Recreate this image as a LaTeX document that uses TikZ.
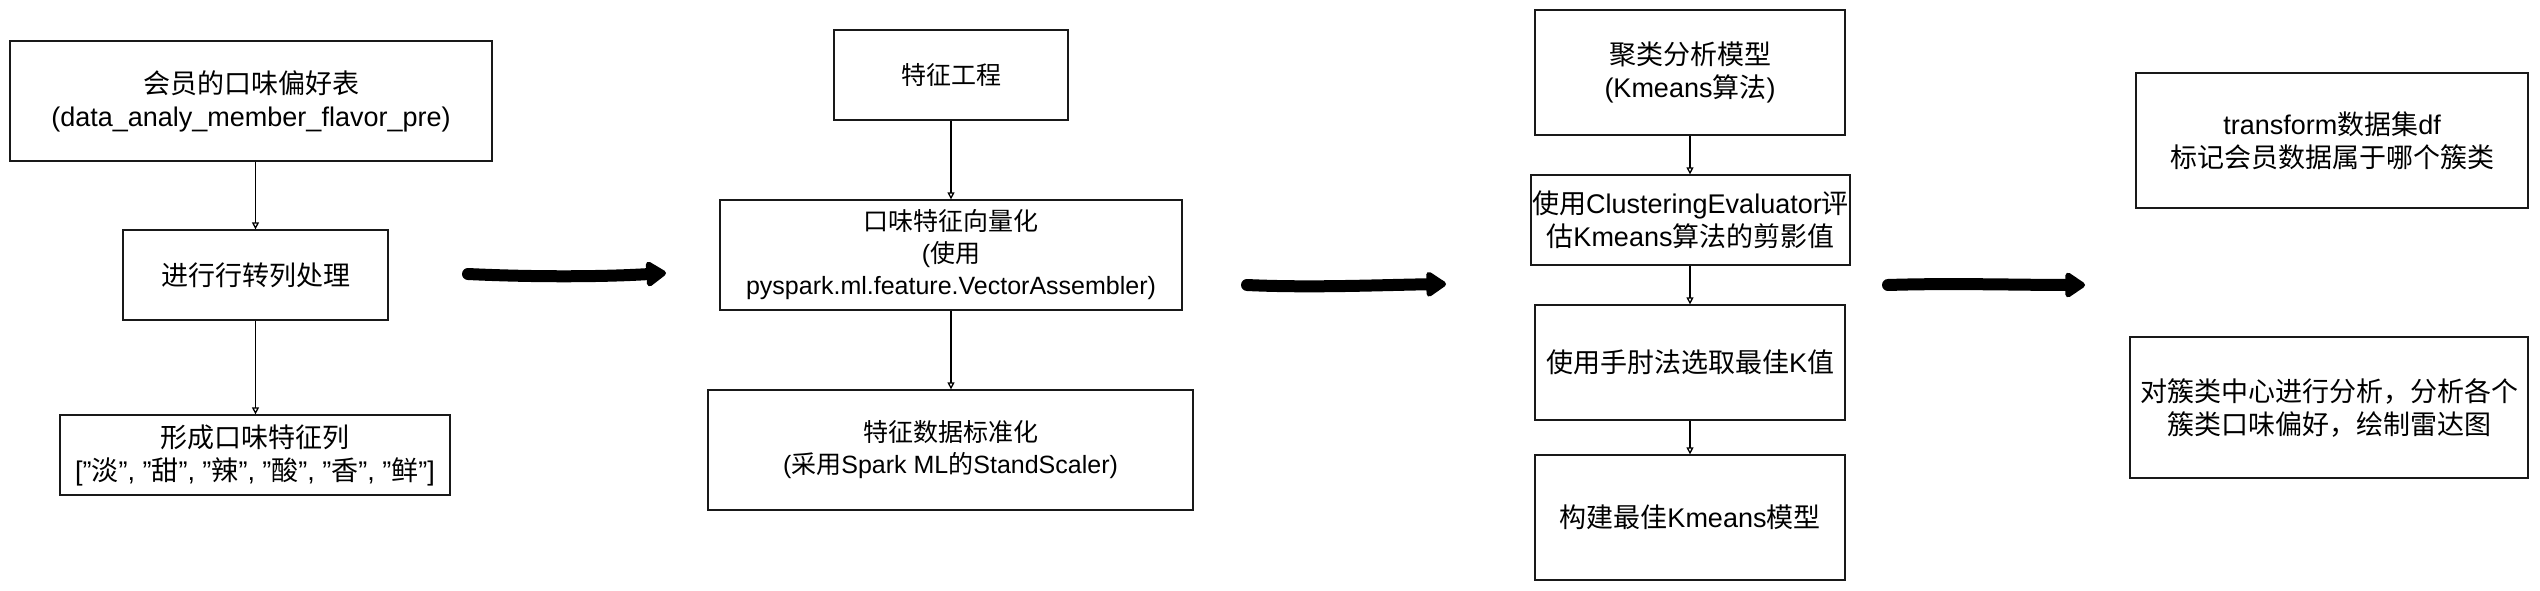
\documentclass[tikz,border=0pt]{standalone}
\usepackage{fontspec}
\setmainfont{Liberation Sans}
\newfontfamily\cjk{Noto Sans CJK SC}
\newcommand\zh[1]{{\cjk #1}}
\usetikzlibrary{arrows.meta}
\tikzset{
  box/.style={draw=black!90, line width=1.3pt, fill=white, align=center, inner sep=0pt,
    font=\fontsize{27}{33}\selectfont},
  boxs/.style={box, font=\fontsize{25}{32}\selectfont},
  thin/.style={draw=black, line width=1.3pt, -{Triangle[open,length=7pt,width=7pt]}},
  thick/.style={draw=black, line width=12pt, line cap=round,
    -{Triangle[length=22pt,width=28pt,round]}},
}
\begin{document}
\begin{tikzpicture}[x=1pt,y=-1pt]
\useasboundingbox (0,0) rectangle (2540,591);
% column 1
\node[box, minimum width=482pt, minimum height=120pt] (b1) at (251,101) {\zh{会员的口味偏好表}\\(data\_analy\_member\_flavor\_pre)};
\node[box, minimum width=265pt, minimum height=90pt] (b2) at (255.5,275) {\zh{进行行转列处理}};
\node[box, minimum width=390pt, minimum height=80pt] (b3) at (255,455) {\zh{形成口味特征列}\\{["\zh{淡}", "\zh{甜}", "\zh{辣}", "\zh{酸}", "\zh{香}", "\zh{鲜}"]}};
% column 2
\node[boxs, minimum width=234pt, minimum height=90pt] (c1) at (951,75) {\zh{特征工程}};
\node[boxs, minimum width=462pt, minimum height=110pt] (c2) at (951,255) {\zh{口味特征向量化}\\(\zh{使用}\\pyspark.ml.feature.VectorAssembler)};
\node[boxs, minimum width=485pt, minimum height=120pt] (c3) at (950.5,450) {\zh{特征数据标准化}\\(\zh{采用}Spark ML\zh{的}StandScaler)};
% column 3
\node[box, minimum width=310pt, minimum height=125pt] (d1) at (1690,72.5) {\zh{聚类分析模型}\\(Kmeans\zh{算法})};
\node[box, minimum width=319pt, minimum height=90pt] (d2) at (1690.5,220) {\zh{使用}ClusteringEvaluator\zh{评}\\\zh{估}Kmeans\zh{算法的剪影值}};
\node[box, minimum width=310pt, minimum height=115pt] (d3) at (1690,362.5) {\zh{使用手肘法选取最佳}K\zh{值}};
\node[box, minimum width=310pt, minimum height=125pt] (d4) at (1690,517.5) {\zh{构建最佳}Kmeans\zh{模型}};
% column 4
\node[box, minimum width=392pt, minimum height=135pt] (e1) at (2332,140.5) {transform\zh{数据集}df\\\zh{标记会员数据属于哪个簇类}};
\node[box, minimum width=398pt, minimum height=141pt] (e2) at (2329,407.5) {\zh{对簇类中心进行分析，分析各个}\\\zh{簇类口味偏好，绘制雷达图}};
% thin connectors
\draw[thin] (b2.north |- b1.south) -- (b2.north);
\draw[thin] (b2.south) -- (b2.south |- b3.north);
\draw[thin] (c1.south) -- (c1.south |- c2.north);
\draw[thin] (c1.south |- c2.south) -- (c1.south |- c3.north);
\draw[thin] (d1.south) -- (d1.south |- d2.north);
\draw[thin] (d1.south |- d2.south) -- (d3.north);
\draw[thin] (d3.south) -- (d4.north);
% thick arrows
\coordinate (a1s) at (468,274);
\coordinate (a1e) at (666,273);
\coordinate (a2s) at (1247,285);
\coordinate (a2e) at (1446,284);
\coordinate (a3s) at (1888,285);
\coordinate (a3e) at (2085,285);
\draw[thick] (a1s) .. controls (530,277) and (600,277) .. (a1e);
\draw[thick] (a2s) .. controls (1310,288) and (1380,285) .. (a2e);
\draw[thick] (a3s) .. controls (1950,283) and (2020,285) .. (a3e);
\end{tikzpicture}
\end{document}
